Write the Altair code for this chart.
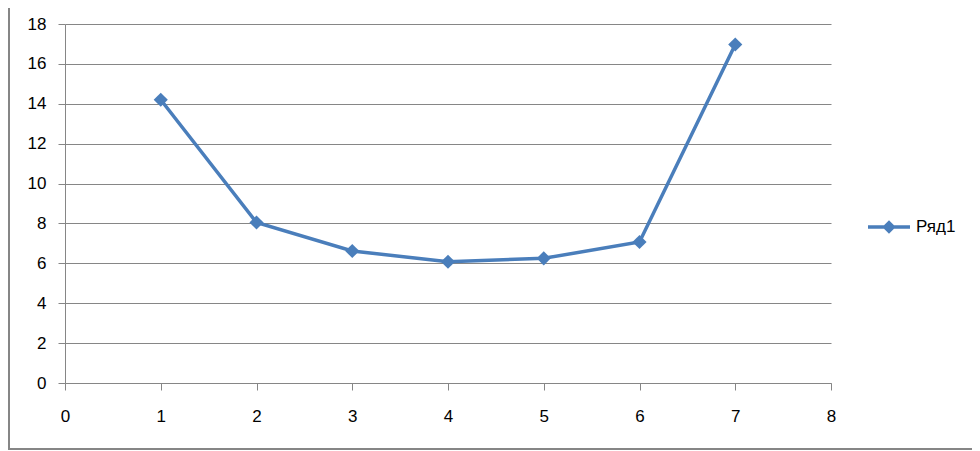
import altair as alt
import pandas as pd

x_vals = [1, 2, 3, 4, 5, 6, 7]
y_vals = [14.2, 8.05, 6.62, 6.08, 6.25, 7.07, 16.97]
series_name = "Ряд1"
y_ticks = [0, 2, 4, 6, 8, 10, 12, 14, 16, 18]
x_ticks = [0, 1, 2, 3, 4, 5, 6, 7, 8]

df = pd.DataFrame({"x": x_vals, "y": y_vals, "s": [series_name] * len(x_vals)})

BLUE = "#4A7EBB"
GREY = "#868686"
FONT = "Liberation Sans"
FS = 17

W, H = 766, 359

x_enc = alt.X("x:Q", scale=alt.Scale(domain=[0, 8], nice=False, zero=False),
              axis=alt.Axis(values=x_ticks, format="d", title=None, grid=False, tickSize=7,
                            labelPadding=18, domainColor=GREY, tickColor=GREY,
                            labelOverlap=False, labelFlush=False,
                            labelFontSize=FS, labelColor="#000000", labelFont=FONT))
y_enc = alt.Y("y:Q", scale=alt.Scale(domain=[0, 18], nice=False),
              axis=alt.Axis(values=y_ticks, format="d", title=None, grid=True, gridColor=GREY,
                            tickSize=7, labelPadding=12, domainColor=GREY, tickColor=GREY,
                            labelOverlap=False, labelFlush=False,
                            labelFontSize=FS, labelColor="#000000", labelFont=FONT))

legend_path = "M-1,-0.085H1V0.085H-1Z M0,-0.32L0.32,0L0,0.32L-0.32,0Z"
color_enc = alt.Color("s:N", scale=alt.Scale(domain=[series_name], range=[BLUE]),
                      legend=alt.Legend(title=None, orient="none", legendX=803, legendY=182,
                                        symbolType=legend_path, symbolSize=1764,
                                        symbolStrokeWidth=0, symbolFillColor=BLUE,
                                        labelFontSize=FS, labelFont=FONT, labelColor="#000000",
                                        labelOffset=6, padding=0))

line = alt.Chart(df).mark_line(strokeWidth=3.5).encode(x=x_enc, y=y_enc, color=color_enc)
pts = alt.Chart(df).mark_point(shape="diamond", filled=True, size=200, opacity=1).encode(
    x=x_enc, y=y_enc, color=color_enc)

border = alt.Chart(pd.DataFrame({"a": [0]})).mark_rect(
    fill=None, stroke=GREY, strokeWidth=2).encode(
    x=alt.value(-56), x2=alt.value(912), y=alt.value(-30), y2=alt.value(425))

chart = alt.layer(border, line, pts).properties(
    width=W, height=H,
    autosize=alt.AutoSizeParams(type="none"),
    padding={"left": 57, "top": 16, "right": 141, "bottom": 68},
).configure_view(stroke=None).configure_axis(domainWidth=1, tickWidth=1, gridWidth=1)

chart.save("out.html", embed_options={"renderer": "svg", "actions": False})
